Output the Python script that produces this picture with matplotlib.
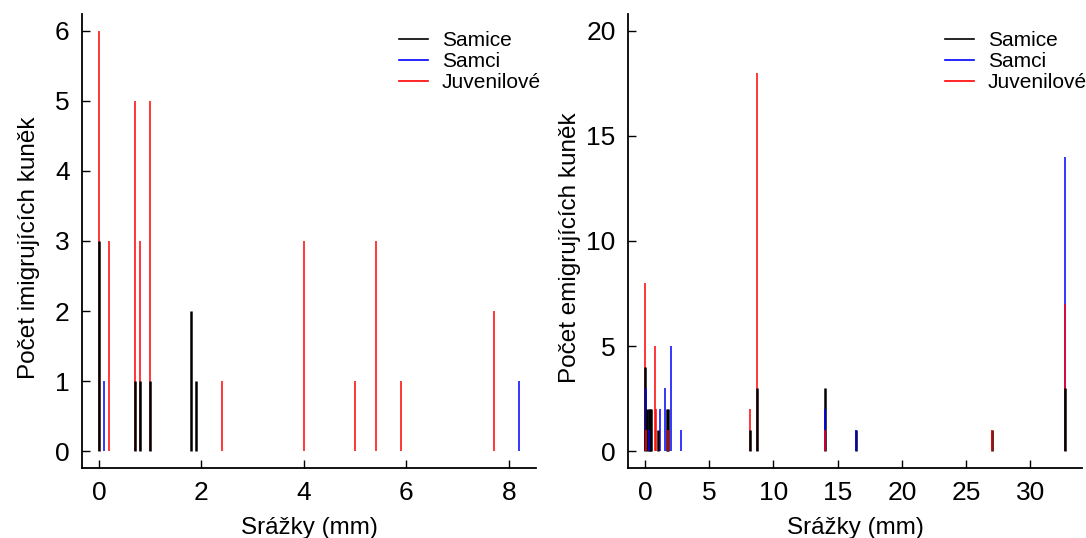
import matplotlib
matplotlib.use("Agg")
import matplotlib.pyplot as plt
from matplotlib.lines import Line2D

plt.rcParams['font.family'] = ['Liberation Sans', 'DejaVu Sans']

# levy panel - imigrace
imi_samice_x = [0, 0.7, 0.8, 1.0, 1.8, 1.9]
imi_samice_y = [3, 1, 1, 1, 2, 1]
imi_samci_x = [0.1, 8.2]
imi_samci_y = [1, 1]
imi_juv_x = [0, 0.2, 0.7, 0.8, 1.0, 2.4, 4.0, 5.0, 5.4, 5.9, 7.7]
imi_juv_y = [6, 3, 5, 3, 5, 1, 3, 1, 3, 1, 2]

# pravy panel - emigrace
emi_samice_x = [0, 0.2, 0.3, 0.4, 0.5, 1.0, 1.7, 1.8, 8.2, 8.7, 14.0, 16.4, 27.0, 32.7]
emi_samice_y = [4, 2, 2, 2, 2, 1, 2, 2, 1, 3, 3, 1, 1, 3]
emi_samci_x = [0.1, 0.3, 1.2, 1.6, 2.0, 2.8, 14.0, 16.4, 32.7]
emi_samci_y = [3, 1, 2, 3, 5, 1, 2, 1, 14]
emi_juv_x = [0, 0.1, 0.8, 0.9, 1.8, 8.2, 8.7, 14.0, 27.0, 32.7]
emi_juv_y = [8, 1, 5, 2, 1, 2, 18, 1, 1, 7]

labels = ["Samice", "Samci", "Juvenilové"]
colors = ["black", "blue", "red"]
widths = [1.8, 1.1, 1.1]


def draw_panel(ax, series, xlim, ylim, xticks, yticks, ylabel, ylab_x):
    for (xs, ys), col, lw in zip(series, colors, widths):
        for x, y in zip(xs, ys):
            # kratsi cary nahore
            ax.vlines(x, 0, y, color=col, lw=lw, zorder=3 - y * 0.01)
    ax.set_xlim(*xlim)
    ax.set_ylim(*ylim)
    ax.set_xticks(xticks)
    ax.set_yticks(yticks)
    ax.spines[['top', 'right']].set_visible(False)
    for s in ['left', 'bottom']:
        ax.spines[s].set_linewidth(1.3)
    ax.tick_params(direction='in', length=6, width=1.0, labelsize=19, pad=9)
    ax.set_xlabel("Srážky (mm)", fontsize=17.5)
    ax.set_ylabel(ylabel, fontsize=17.5)
    ax.xaxis.set_label_coords(0.5, -0.108)
    ax.yaxis.set_label_coords(ylab_x, 0.485)
    handles = [Line2D([0], [0], color=c, lw=1.2) for c in colors]
    ax.legend(handles, labels, loc='upper left', frameon=False, fontsize=15,
              handlelength=1.4, handletextpad=0.65, labelspacing=0.1,
              borderaxespad=0, borderpad=0, bbox_to_anchor=(0.698, 0.963))


fig = plt.figure(figsize=(10.86, 5.38), dpi=100)
H = 538.0
W = 1086.0
ax1 = fig.add_axes([82 / W, (H - 468) / H, (536 - 82) / W, (468 - 14) / H])
ax2 = fig.add_axes([628 / W, (H - 468) / H, (1082 - 628) / W, (468 - 14) / H])

draw_panel(ax1,
           [(imi_samice_x, imi_samice_y), (imi_samci_x, imi_samci_y), (imi_juv_x, imi_juv_y)],
           (-0.328, 8.528), (-0.24, 6.24), [0, 2, 4, 6, 8], range(0, 7),
           "Počet imigrujících kuněk", -0.093)
draw_panel(ax2,
           [(emi_samice_x, emi_samice_y), (emi_samci_x, emi_samci_y), (emi_juv_x, emi_juv_y)],
           (-1.308, 34.008), (-0.8, 20.8), range(0, 31, 5), range(0, 21, 5),
           "Počet emigrujících kuněk", -0.103)

fig.savefig("out.png", dpi=100)
